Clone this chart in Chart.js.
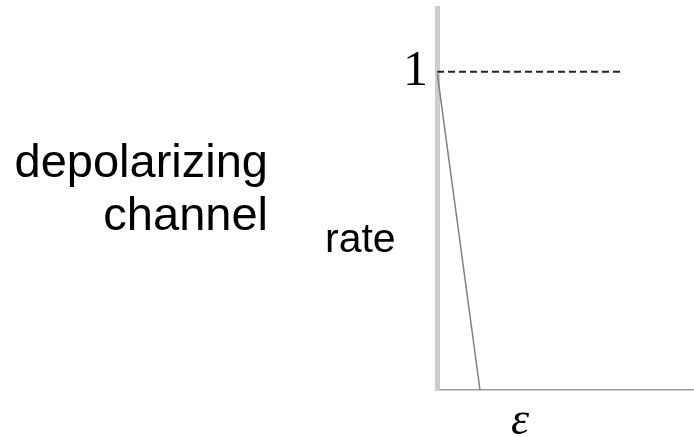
<!DOCTYPE html>
<html>
<head>
<meta charset="utf-8">
<script src="https://cdn.jsdelivr.net/npm/chart.js@4"></script>
<style>
  html, body { margin: 0; padding: 0; background: #fff; overflow: hidden; }
  #wrap { width: 694px; height: 437px; }
  canvas { display: block; }
</style>
</head>
<body>
<div id="wrap"><canvas id="chart" width="694" height="437"></canvas></div>
<script>
// values
const rateX = [0, 0.168];
const rateY = [1, 0];
const boundX = [0, 0.723];
const boundY = [1, 1];
const yTicks = [1];
const sideLabel = ['depolarizing', 'channel'];
const yLabel = 'rate';
const xLabel = 'ε';

// extra labels drawn around the plot
const labelsPlugin = {
    id: 'labels',
    afterDraw(chart) {
        const ctx = chart.ctx;
        ctx.save();
        ctx.fillStyle = '#000';
        ctx.textBaseline = 'alphabetic';
        ctx.textAlign = 'right';
        ctx.font = '47px "Liberation Sans", Arial, sans-serif';
        ctx.fillText(sideLabel[0], 268, 177);
        ctx.fillText(sideLabel[1], 268, 230);
        ctx.textAlign = 'left';
        ctx.font = '41px "Liberation Sans", Arial, sans-serif';
        ctx.fillText(yLabel, 325, 252);
        ctx.font = 'italic 46px "Liberation Serif", serif';
        ctx.fillText(xLabel, 511, 434);
        ctx.restore();
    }
};

const ctx = document.getElementById('chart').getContext('2d');
const chart = new Chart(ctx, {
    type: 'line',
    data: {
        datasets: [{
            data: rateX.map((x, i) => ({ x: x, y: rateY[i] })),
            borderColor: '#808080',
            borderWidth: 1.5,
            pointRadius: 0,
            tension: 0
        }, {
            data: boundX.map((x, i) => ({ x: x, y: boundY[i] })),
            borderColor: '#222',
            borderWidth: 2,
            borderDash: [7, 4],
            pointRadius: 0,
            tension: 0
        }]
    },
    options: {
        responsive: false,
        animation: false,
        layout: { padding: { top: 8, right: 1, left: 0, bottom: 0 } },
        plugins: { legend: { display: false }, tooltip: { enabled: false } },
        scales: {
            x: {
                type: 'linear',
                min: 0,
                max: 1,
                grid: { display: false, drawTicks: false },
                border: { display: true, color: '#9a9a9a', width: 1.5 },
                ticks: { display: false },
                afterFit(scale) {
                    scale.height = 47;
                    scale.paddingLeft = 0;
                    scale.paddingRight = 0;
                }
            },
            y: {
                type: 'linear',
                min: 0,
                max: 1.2,
                afterBuildTicks(scale) { scale.ticks = yTicks.map(v => ({ value: v })); },
                grid: { display: false, drawTicks: false },
                border: { display: true, color: '#cdcdcd', width: 5 },
                ticks: {
                    color: '#000',
                    padding: 9,
                    font: { family: '"Liberation Serif", serif', size: 50 }
                },
                afterFit(scale) {
                    scale.width = 437;
                    scale.paddingTop = 0;
                    scale.paddingBottom = 0;
                }
            }
        }
    },
    plugins: [labelsPlugin]
});
</script>
</body>
</html>
